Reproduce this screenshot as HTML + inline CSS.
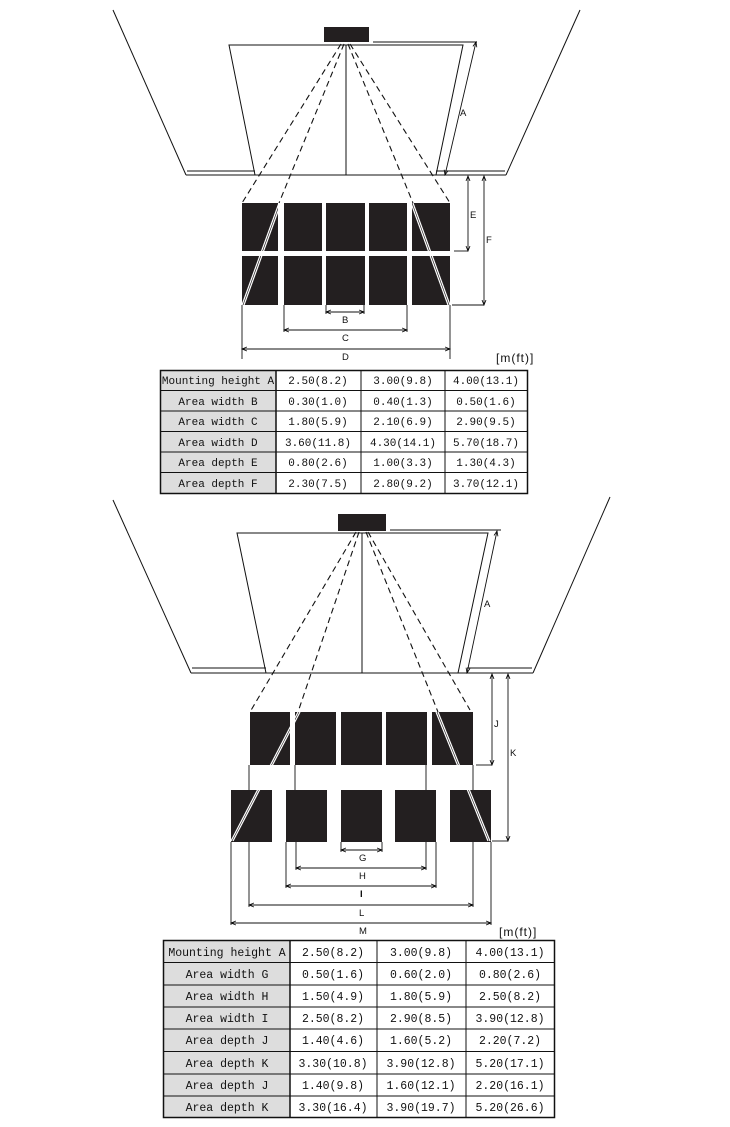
<!DOCTYPE html>
<html><head><meta charset="utf-8"><style>
html,body{margin:0;padding:0;background:#fff;}
svg{display:block;}
text{font-family:"Liberation Sans",sans-serif;}
.t text{font-family:"Liberation Mono",monospace;font-size:11px;fill:#111;}
.t2 text{font-size:11.5px;}
</style></head><body>
<svg width="730" height="1127" viewBox="0 0 730 1127" xmlns="http://www.w3.org/2000/svg">
<defs>
<marker id="ar" markerWidth="6" markerHeight="6" refX="5" refY="3" orient="auto-start-reverse" markerUnits="userSpaceOnUse"><path d="M0,1 L5,3 L0,5" fill="none" stroke="#000" stroke-width="0.8"/></marker>
</defs>
<g stroke="#111" stroke-width="1" fill="none">
<line x1="113" y1="10" x2="186" y2="175"/>
<line x1="580" y1="10" x2="506" y2="175"/>
<line x1="186" y1="175" x2="506" y2="175"/>
<line x1="187" y1="171" x2="255" y2="171"/>
<line x1="436" y1="171" x2="505" y2="171"/>
<polyline points="255,175 229,45 463,45 436,175"/>
<line x1="346" y1="45" x2="346" y2="175"/>
<g stroke-dasharray="6,4" stroke-width="1.1">
<line x1="341" y1="44" x2="242" y2="203"/>
<line x1="344" y1="44" x2="279" y2="203"/>
<line x1="350" y1="44" x2="450" y2="203"/>
<line x1="348" y1="44" x2="413" y2="203"/>
</g>
</g>
<rect x="324" y="27" width="45" height="15" fill="#231f20"/>
<g fill="#231f20">
<rect x="242" y="203" width="36" height="48"/><rect x="284" y="203" width="38" height="48"/><rect x="326" y="203" width="39" height="48"/><rect x="369" y="203" width="38" height="48"/><rect x="412" y="203" width="38" height="48"/>
<rect x="242" y="256" width="36" height="49"/><rect x="284" y="256" width="38" height="49"/><rect x="326" y="256" width="39" height="49"/><rect x="369" y="256" width="38" height="49"/><rect x="412" y="256" width="38" height="49"/>
</g>
<g stroke="#fff" stroke-width="1.2">
<line x1="279" y1="203" x2="242" y2="305"/><line x1="281" y1="203" x2="244" y2="305"/>
<line x1="413" y1="203" x2="450" y2="305"/><line x1="411" y1="203" x2="448" y2="305"/>
</g>
<g stroke="#111" stroke-width="0.9" fill="none">
<line x1="373" y1="42" x2="477" y2="42"/>
<line x1="476" y1="42" x2="445" y2="175" marker-start="url(#ar)" marker-end="url(#ar)"/>
<line x1="468" y1="176" x2="468" y2="251" marker-start="url(#ar)" marker-end="url(#ar)"/>
<line x1="454" y1="251" x2="468" y2="251"/>
<line x1="484" y1="176" x2="484" y2="305" marker-start="url(#ar)" marker-end="url(#ar)"/>
<line x1="452" y1="305" x2="484" y2="305"/>
<line x1="326" y1="305" x2="326" y2="314"/><line x1="364" y1="305" x2="364" y2="314"/>
<line x1="326" y1="312" x2="364" y2="312" marker-start="url(#ar)" marker-end="url(#ar)"/>
<line x1="284" y1="305" x2="284" y2="332"/><line x1="407" y1="305" x2="407" y2="332"/>
<line x1="284" y1="330" x2="407" y2="330" marker-start="url(#ar)" marker-end="url(#ar)"/>
<line x1="242" y1="305" x2="242" y2="359"/><line x1="450" y1="305" x2="450" y2="359"/>
<line x1="242" y1="349" x2="450" y2="349" marker-start="url(#ar)" marker-end="url(#ar)"/>
</g>
<g font-size="9.5" fill="#111">
<text x="460" y="116">A</text><text x="470" y="218">E</text><text x="486" y="243">F</text>
<text x="342" y="323">B</text><text x="342" y="341">C</text><text x="342" y="360">D</text>
</g>
<text x="496" y="362" font-size="12" fill="#111" letter-spacing="1">[m(ft)]</text>
<g>
<rect x="160" y="370" width="116" height="123" fill="#ddd"/>
<g stroke="#111" fill="none" stroke-width="1">
<rect x="160.5" y="370.5" width="367" height="123" stroke-width="1.5"/>
<line x1="276" y1="370" x2="276" y2="493" stroke-width="1.5"/>
<line x1="361" y1="370" x2="361" y2="493"/>
<line x1="445" y1="370" x2="445" y2="493"/>
<line x1="160" y1="390.5" x2="527" y2="390.5"/><line x1="160" y1="411" x2="527" y2="411"/><line x1="160" y1="431.5" x2="527" y2="431.5"/><line x1="160" y1="452" x2="527" y2="452"/><line x1="160" y1="472.5" x2="527" y2="472.5"/>
</g>
<g class="t" text-anchor="middle">
<text x="218" y="384">Mounting height A</text><text x="318" y="384">2.50(8.2)</text><text x="403" y="384">3.00(9.8)</text><text x="486" y="384">4.00(13.1)</text>
<text x="218" y="405">Area width B</text><text x="318" y="405">0.30(1.0)</text><text x="403" y="405">0.40(1.3)</text><text x="486" y="405">0.50(1.6)</text>
<text x="218" y="425">Area width C</text><text x="318" y="425">1.80(5.9)</text><text x="403" y="425">2.10(6.9)</text><text x="486" y="425">2.90(9.5)</text>
<text x="218" y="446">Area width D</text><text x="318" y="446">3.60(11.8)</text><text x="403" y="446">4.30(14.1)</text><text x="486" y="446">5.70(18.7)</text>
<text x="218" y="466">Area depth E</text><text x="318" y="466">0.80(2.6)</text><text x="403" y="466">1.00(3.3)</text><text x="486" y="466">1.30(4.3)</text>
<text x="218" y="487">Area depth F</text><text x="318" y="487">2.30(7.5)</text><text x="403" y="487">2.80(9.2)</text><text x="486" y="487">3.70(12.1)</text>
</g>
</g>
<g stroke="#111" stroke-width="1" fill="none">
<line x1="113" y1="500" x2="191" y2="673"/>
<line x1="610" y1="497" x2="533" y2="673"/>
<line x1="191" y1="673" x2="533" y2="673"/>
<line x1="192" y1="668" x2="266" y2="668"/>
<line x1="467" y1="668" x2="532" y2="668"/>
<polyline points="266,673 237,533 488,533 458,673"/>
<line x1="362" y1="533" x2="362" y2="673"/>
<g stroke-dasharray="6,4" stroke-width="1.1">
<line x1="356" y1="532" x2="250" y2="712"/>
<line x1="359" y1="532" x2="298" y2="712"/>
<line x1="368" y1="532" x2="470" y2="710"/>
<line x1="366" y1="532" x2="438" y2="712"/>
</g>
</g>
<rect x="338" y="514" width="48" height="17" fill="#231f20"/>
<g fill="#231f20">
<rect x="250" y="712" width="40" height="53"/><rect x="295" y="712" width="41" height="53"/><rect x="341" y="712" width="41" height="53"/><rect x="386" y="712" width="41" height="53"/><rect x="432" y="712" width="41" height="53"/>
<rect x="231" y="790" width="41" height="52"/><rect x="286" y="790" width="41" height="52"/><rect x="341" y="790" width="41" height="52"/><rect x="395" y="790" width="41" height="52"/><rect x="450" y="790" width="41" height="52"/>
</g>
<g stroke="#fff" stroke-width="1.2">
<line x1="298" y1="712" x2="231" y2="841"/><line x1="300" y1="712" x2="233" y2="841"/>
<line x1="438" y1="712" x2="490" y2="841"/><line x1="436" y1="712" x2="488" y2="841"/>
</g>
<g stroke="#111" stroke-width="0.9" fill="none">
<line x1="390" y1="530" x2="501" y2="530"/>
<line x1="497" y1="531" x2="467" y2="673" marker-start="url(#ar)" marker-end="url(#ar)"/>
<line x1="492" y1="674" x2="492" y2="765" marker-start="url(#ar)" marker-end="url(#ar)"/>
<line x1="476" y1="765" x2="492" y2="765"/>
<line x1="508" y1="674" x2="508" y2="841" marker-start="url(#ar)" marker-end="url(#ar)"/>
<line x1="492" y1="841" x2="508" y2="841"/>
<line x1="249" y1="765" x2="249" y2="790"/><line x1="295" y1="765" x2="295" y2="790"/><line x1="426" y1="765" x2="426" y2="790"/><line x1="473" y1="765" x2="473" y2="790"/>
<line x1="341" y1="842" x2="341" y2="852"/><line x1="382" y1="842" x2="382" y2="852"/>
<line x1="341" y1="850" x2="382" y2="850" marker-start="url(#ar)" marker-end="url(#ar)"/>
<line x1="296" y1="842" x2="296" y2="870"/><line x1="426" y1="842" x2="426" y2="870"/>
<line x1="296" y1="868" x2="426" y2="868" marker-start="url(#ar)" marker-end="url(#ar)"/>
<line x1="286" y1="842" x2="286" y2="888"/><line x1="436" y1="842" x2="436" y2="888"/>
<line x1="286" y1="886" x2="436" y2="886" marker-start="url(#ar)" marker-end="url(#ar)"/>
<line x1="249" y1="842" x2="249" y2="907"/><line x1="473" y1="842" x2="473" y2="907"/>
<line x1="249" y1="905" x2="473" y2="905" marker-start="url(#ar)" marker-end="url(#ar)"/>
<line x1="231" y1="842" x2="231" y2="925"/><line x1="491" y1="842" x2="491" y2="925"/>
<line x1="231" y1="923" x2="491" y2="923" marker-start="url(#ar)" marker-end="url(#ar)"/>
</g>
<g font-size="9.5" fill="#111">
<text x="484" y="607">A</text><text x="494" y="727">J</text><text x="510" y="756">K</text>
<text x="359" y="861">G</text><text x="359" y="879">H</text><text x="360" y="897" font-weight="bold">I</text><text x="359" y="916">L</text><text x="359" y="934">M</text>
</g>
<text x="499" y="936" font-size="12" fill="#111" letter-spacing="1">[m(ft)]</text>
<g>
<rect x="163" y="940" width="127" height="178" fill="#ddd"/>
<g stroke="#111" fill="none" stroke-width="1">
<rect x="163.5" y="940.5" width="391" height="177" stroke-width="1.5"/>
<line x1="290" y1="940" x2="290" y2="1118" stroke-width="1.5"/>
<line x1="377" y1="940" x2="377" y2="1118"/>
<line x1="466" y1="940" x2="466" y2="1118"/>
<line x1="163" y1="962.5" x2="555" y2="962.5"/><line x1="163" y1="985" x2="555" y2="985"/><line x1="163" y1="1007" x2="555" y2="1007"/><line x1="163" y1="1029" x2="555" y2="1029"/><line x1="163" y1="1051.5" x2="555" y2="1051.5"/><line x1="163" y1="1074" x2="555" y2="1074"/><line x1="163" y1="1096" x2="555" y2="1096"/>
</g>
<g class="t t2" text-anchor="middle">
<text x="227" y="956">Mounting height A</text><text x="333" y="956">2.50(8.2)</text><text x="421" y="956">3.00(9.8)</text><text x="510" y="956">4.00(13.1)</text>
<text x="227" y="978">Area width G</text><text x="333" y="978">0.50(1.6)</text><text x="421" y="978">0.60(2.0)</text><text x="510" y="978">0.80(2.6)</text>
<text x="227" y="1000">Area width H</text><text x="333" y="1000">1.50(4.9)</text><text x="421" y="1000">1.80(5.9)</text><text x="510" y="1000">2.50(8.2)</text>
<text x="227" y="1022">Area width I</text><text x="333" y="1022">2.50(8.2)</text><text x="421" y="1022">2.90(8.5)</text><text x="510" y="1022">3.90(12.8)</text>
<text x="227" y="1044">Area depth J</text><text x="333" y="1044">1.40(4.6)</text><text x="421" y="1044">1.60(5.2)</text><text x="510" y="1044">2.20(7.2)</text>
<text x="227" y="1067">Area depth K</text><text x="333" y="1067">3.30(10.8)</text><text x="421" y="1067">3.90(12.8)</text><text x="510" y="1067">5.20(17.1)</text>
<text x="227" y="1089">Area depth J</text><text x="333" y="1089">1.40(9.8)</text><text x="421" y="1089">1.60(12.1)</text><text x="510" y="1089">2.20(16.1)</text>
<text x="227" y="1111">Area depth K</text><text x="333" y="1111">3.30(16.4)</text><text x="421" y="1111">3.90(19.7)</text><text x="510" y="1111">5.20(26.6)</text>
</g>
</g>
</svg>
</body></html>
